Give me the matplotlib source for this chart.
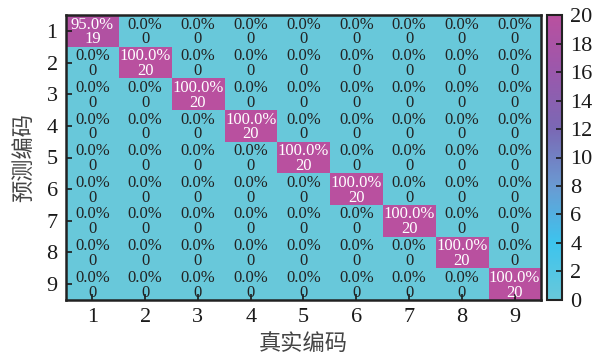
import matplotlib
matplotlib.use("Agg")
import matplotlib.pyplot as plt
import numpy as np
from matplotlib.colors import LinearSegmentedColormap

plt.rcParams['font.family'] = ['Liberation Serif', 'Noto Sans CJK SC']
plt.rcParams['axes.unicode_minus'] = False

codes = ['1', '2', '3', '4', '5', '6', '7', '8', '9']
samples_per_class = 20
# rows: predicted code, columns: true code
counts = [
    [19, 0, 0, 0, 0, 0, 0, 0, 0],
    [0, 20, 0, 0, 0, 0, 0, 0, 0],
    [0, 0, 20, 0, 0, 0, 0, 0, 0],
    [0, 0, 0, 20, 0, 0, 0, 0, 0],
    [0, 0, 0, 0, 20, 0, 0, 0, 0],
    [0, 0, 0, 0, 0, 20, 0, 0, 0],
    [0, 0, 0, 0, 0, 0, 20, 0, 0],
    [0, 0, 0, 0, 0, 0, 0, 20, 0],
    [0, 0, 0, 0, 0, 0, 0, 0, 20],
]
cbar_ticks = [0, 2, 4, 6, 8, 10, 12, 14, 16, 18, 20]
x_label = '真实编码'
y_label = '预测编码'

cmap = LinearSegmentedColormap.from_list(
    'cyan_magenta',
    [(0.0, '#68c8da'), (0.2, '#3cc4ee'), (0.4, '#6a9ad2'),
     (0.6, '#7a68b4'), (0.8, '#9a58ac'), (1.0, '#b9509f')])

mat = np.array(counts, dtype=float)
n = len(codes)

fig = plt.figure(figsize=(5.96, 3.6), dpi=100)
ax = fig.add_axes([0.1107, 0.1667, 0.797, 0.7916])
cax = fig.add_axes([0.9178, 0.1667, 0.0252, 0.7916])

im = ax.imshow(mat, cmap=cmap, vmin=0, vmax=20, aspect='auto',
               extent=(0.5, n + 0.5, n + 0.5, 0.5), interpolation='nearest')

for i in range(n):
    for j in range(n):
        c = counts[i][j]
        pct = 100.0 * c / samples_per_class
        color = 'white' if c > 10 else '#222222'
        ax.text(j + 1, i + 1 - 0.2, f'{pct:.1f}%', ha='center', va='center',
                fontsize=12, color=color)
        ax.text(j + 1, i + 1 + 0.27, f'{c}', ha='center', va='center',
                fontsize=12, color=color)

ax.set_xticks(range(1, n + 1))
ax.set_xticklabels(codes)
ax.set_yticks(range(1, n + 1))
ax.set_yticklabels(codes)
ax.tick_params(direction='in', length=4, width=1.2, labelsize=16, pad=6,
               colors='#1a1a1a')
for s in ax.spines.values():
    s.set_linewidth(1.8)
    s.set_color('#222222')
ax.set_xlabel(x_label, fontsize=16, color='#444444', labelpad=5)
ax.set_ylabel(y_label, fontsize=16, color='#444444', labelpad=8)

cb = fig.colorbar(im, cax=cax, ticks=cbar_ticks)
cb.outline.set_linewidth(1.5)
cb.outline.set_edgecolor('#222222')
cax.tick_params(direction='in', length=4, width=1.2, labelsize=16, pad=6,
                colors='#1a1a1a')

fig.savefig('out.png', dpi=100)
